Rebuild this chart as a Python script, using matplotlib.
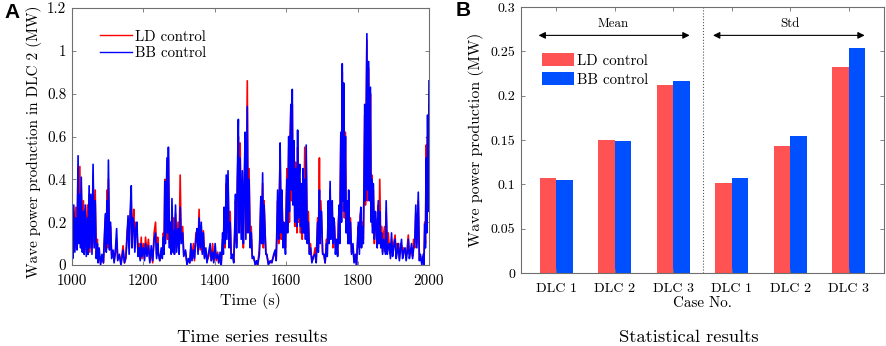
import matplotlib
matplotlib.use("Agg")
import matplotlib.pyplot as plt
import numpy as np

# ---------------- data ----------------
time_s = [1000,1002,1005,1008,1011,1014,1017,1019,1022,1024,1026,1029,1032,1034,1037,1040,1043,1045,1048,1050,
          1053,1056,1059,1062,1065,1068,1071,1073,1076,1080,1084,1088,1091,1094,1096,1098,1100,1102,1105,1108,
          1111,1115,1118,1122,1125,1128,1133,1137,1140,1143,1147,1151,1154,1157,1160,1163,1166,1168,1170,1173,
          1176,1179,1182,1185,1188,1191,1194,1196,1200,1203,1206,1210,1214,1218,1222,1226,1230,1234,1237,1240,
          1242,1246,1250,1253,1256,1258,1260,1262,1266,1268,1270,1273,1276,1278,1280,1283,1285,1287,1290,1293,
          1297,1300,1303,1306,1310,1313,1318,1322,1326,1330,1333,1336,1340,1343,1347,1350,1353,1356,1359,1362,
          1365,1368,1371,1375,1378,1383,1387,1390,1394,1397,1401,1404,1408,1411,1415,1418,1422,1424,1426,1429,
          1432,1434,1437,1440,1443,1446,1450,1453,1456,1458,1461,1463,1466,1468,1471,1474,1477,1480,1482,1485,
          1487,1489,1491,1493,1496,1499,1502,1505,1509,1513,1517,1520,1522,1525,1527,1529,1531,1534,1536,1538,
          1540,1543,1546,1550,1555,1560,1565,1569,1572,1574,1576,1579,1581,1583,1586,1588,1591,1593,1595,1598,
          1600,1602,1604,1607,1609,1611,1613,1615,1617,1619,1622,1624,1626,1628,1630,1632,1634,1636,1638,1640,
          1643,1645,1647,1649,1652,1654,1656,1659,1662,1665,1668,1672,1676,1681,1684,1686,1688,1690,1693,1695,
          1697,1699,1702,1706,1709,1713,1715,1718,1720,1723,1725,1727,1729,1731,1733,1735,1738,1741,1744,1746,
          1748,1750,1753,1755,1757,1759,1761,1763,1766,1768,1770,1773,1775,1777,1780,1783,1787,1790,1794,1797,
          1800,1802,1805,1807,1809,1811,1814,1816,1818,1820,1822,1824,1826,1828,1831,1833,1836,1838,1840,1842,
          1844,1847,1850,1852,1855,1858,1860,1862,1865,1867,1870,1873,1876,1878,1880,1883,1886,1889,1892,1895,
          1898,1901,1905,1908,1911,1914,1917,1920,1923,1926,1929,1933,1936,1939,1942,1945,1948,1951,1954,1957,
          1960,1963,1966,1970,1973,1976,1980,1984,1986,1988,1990,1992,1994,1996,1998,2000]

bb_power = [0.12,0.03,0.28,0.06,0.22,0.07,0.51,0.10,0.33,0.08,0.41,0.06,0.25,0.05,0.28,0.04,0.22,0.05,0.37,0.08,
            0.33,0.05,0.47,0.08,0.30,0.03,0.10,0.01,0.08,0.00,0.05,0.01,0.15,0.24,0.06,0.30,0.10,0.49,0.07,0.20,
            0.03,0.07,0.01,0.08,0.17,0.02,0.05,0.00,0.03,0.07,0.01,0.04,0.12,0.23,0.05,0.25,0.37,0.08,0.22,0.20,
            0.06,0.17,0.20,0.04,0.08,0.02,0.10,0.04,0.08,0.02,0.10,0.04,0.09,0.01,0.09,0.02,0.12,0.15,0.03,0.10,
            0.05,0.02,0.08,0.03,0.13,0.05,0.39,0.10,0.50,0.15,0.55,0.08,0.20,0.05,0.31,0.06,0.16,0.05,0.28,0.06,
            0.17,0.05,0.27,0.10,0.15,0.04,0.07,0.00,0.03,0.01,0.10,0.02,0.07,0.03,0.12,0.17,0.05,0.22,0.08,0.20,
            0.05,0.15,0.03,0.08,0.01,0.06,0.10,0.02,0.06,0.01,0.10,0.03,0.05,0.01,0.06,0.00,0.15,0.05,0.27,0.10,
            0.42,0.12,0.44,0.08,0.20,0.03,0.05,0.01,0.18,0.33,0.08,0.40,0.68,0.15,0.50,0.12,0.44,0.10,0.35,0.62,
            0.12,0.45,0.74,0.15,0.40,0.08,0.15,0.03,0.04,0.00,0.02,0.00,0.02,0.05,0.20,0.32,0.10,0.43,0.10,0.28,
            0.20,0.05,0.05,0.00,0.02,0.01,0.05,0.07,0.02,0.18,0.35,0.12,0.30,0.57,0.15,0.35,0.08,0.20,0.15,0.05,
            0.25,0.40,0.15,0.60,0.25,0.55,0.75,0.35,0.82,0.28,0.58,0.20,0.45,0.35,0.18,0.63,0.22,0.40,0.47,0.18,
            0.38,0.15,0.45,0.15,0.40,0.12,0.56,0.10,0.20,0.05,0.08,0.01,0.04,0.05,0.01,0.10,0.20,0.06,0.35,0.10,
            0.25,0.25,0.05,0.05,0.01,0.10,0.04,0.30,0.10,0.39,0.12,0.25,0.30,0.10,0.22,0.20,0.05,0.12,0.04,0.15,
            0.28,0.10,0.62,0.20,0.94,0.30,0.85,0.25,0.60,0.15,0.30,0.10,0.35,0.10,0.20,0.05,0.10,0.01,0.05,0.00,
            0.12,0.20,0.05,0.20,0.27,0.08,0.18,0.10,0.40,0.75,0.30,0.70,1.08,0.35,0.95,0.30,0.83,0.20,0.40,0.15,
            0.38,0.12,0.25,0.20,0.08,0.30,0.10,0.25,0.08,0.15,0.05,0.12,0.08,0.05,0.30,0.05,0.08,0.10,0.03,0.15,
            0.04,0.08,0.12,0.03,0.06,0.10,0.02,0.07,0.12,0.03,0.06,0.08,0.02,0.06,0.12,0.03,0.06,0.10,0.03,0.08,
            0.10,0.28,0.08,0.34,0.02,0.05,0.00,0.05,0.00,0.19,0.08,0.50,0.15,0.70,0.25,0.86]

ld_power = [0.10,0.05,0.25,0.08,0.27,0.10,0.45,0.12,0.46,0.10,0.36,0.08,0.30,0.07,0.26,0.06,0.28,0.08,0.33,0.06,
            0.30,0.08,0.42,0.10,0.35,0.05,0.12,0.02,0.05,0.01,0.04,0.01,0.12,0.22,0.10,0.35,0.08,0.40,0.10,0.18,
            0.05,0.06,0.02,0.06,0.12,0.03,0.04,0.01,0.05,0.09,0.01,0.03,0.15,0.20,0.08,0.22,0.30,0.10,0.18,0.26,
            0.08,0.20,0.16,0.05,0.10,0.03,0.13,0.03,0.10,0.03,0.13,0.05,0.12,0.02,0.06,0.01,0.15,0.20,0.05,0.13,
            0.06,0.02,0.06,0.05,0.15,0.08,0.40,0.12,0.45,0.12,0.50,0.10,0.18,0.06,0.25,0.08,0.22,0.05,0.24,0.08,
            0.20,0.07,0.42,0.12,0.18,0.05,0.06,0.01,0.02,0.01,0.08,0.03,0.10,0.02,0.15,0.14,0.07,0.26,0.07,0.18,
            0.06,0.16,0.04,0.06,0.02,0.04,0.08,0.02,0.10,0.02,0.07,0.02,0.06,0.01,0.04,0.01,0.12,0.08,0.22,0.08,
            0.38,0.15,0.40,0.10,0.25,0.05,0.04,0.02,0.15,0.30,0.10,0.35,0.60,0.20,0.57,0.15,0.40,0.08,0.30,0.55,
            0.15,0.50,0.86,0.20,0.45,0.10,0.18,0.04,0.03,0.01,0.01,0.00,0.03,0.08,0.15,0.30,0.12,0.38,0.08,0.30,
            0.18,0.06,0.04,0.01,0.01,0.02,0.04,0.06,0.03,0.15,0.30,0.10,0.35,0.50,0.12,0.32,0.10,0.18,0.12,0.08,
            0.30,0.45,0.18,0.55,0.20,0.60,0.72,0.30,0.75,0.30,0.55,0.18,0.48,0.30,0.15,0.55,0.20,0.42,0.40,0.15,
            0.35,0.12,0.42,0.18,0.55,0.15,0.48,0.12,0.25,0.06,0.10,0.02,0.03,0.08,0.02,0.12,0.22,0.08,0.50,0.15,
            0.30,0.20,0.06,0.04,0.01,0.12,0.05,0.28,0.12,0.35,0.15,0.28,0.25,0.08,0.20,0.18,0.08,0.10,0.05,0.20,
            0.25,0.12,0.60,0.25,0.90,0.35,0.80,0.22,0.62,0.18,0.28,0.12,0.30,0.10,0.22,0.06,0.08,0.02,0.04,0.01,
            0.10,0.18,0.08,0.23,0.25,0.10,0.20,0.12,0.35,0.70,0.28,0.65,1.05,0.30,0.92,0.35,0.80,0.25,0.42,0.18,
            0.35,0.10,0.22,0.18,0.10,0.28,0.12,0.40,0.10,0.18,0.06,0.15,0.18,0.06,0.25,0.08,0.15,0.08,0.05,0.12,
            0.06,0.10,0.14,0.04,0.10,0.08,0.03,0.10,0.09,0.05,0.08,0.06,0.03,0.08,0.14,0.05,0.07,0.08,0.04,0.12,
            0.08,0.24,0.10,0.30,0.03,0.04,0.01,0.04,0.02,0.20,0.10,0.56,0.20,0.60,0.30,0.75]

case_labels = ["DLC 1", "DLC 2", "DLC 3", "DLC 1", "DLC 2", "DLC 3"]
ld_stats = [0.107, 0.150, 0.212, 0.102, 0.143, 0.232]
bb_stats = [0.105, 0.149, 0.216, 0.107, 0.154, 0.254]

# ---------------- style ----------------
plt.rcParams['font.family'] = 'serif'
plt.rcParams['font.serif'] = ['cmr10', 'DejaVu Serif']
plt.rcParams['axes.formatter.use_mathtext'] = True
plt.rcParams['mathtext.fontset'] = 'cm'

W, H = 886, 346
fig = plt.figure(figsize=(W / 100, H / 100), dpi=100)
rend = fig.canvas.get_renderer()


def fit_size(txt, target_px, base=12.0):
    """font size (pt) that makes txt about target_px wide in the serif font"""
    t = fig.text(0, 0, txt, fontsize=base)
    w = t.get_window_extent(rend).width
    t.remove()
    return base * target_px / w


fs_tick_a = fit_size("1000", 30)
fs_tick_b = fit_size("DLC 1", 41)
fs_leg = fit_size("LD control", 71)
fs_xlab_a = fit_size("Time (s)", 61)
fs_ylab_a = fit_size("Wave power production in DLC 2 (MW)", 272)
fs_xlab_b = fit_size("Case No.", 59)
fs_ylab_b = fit_size("Wave power production (MW)", 214)
fs_mean = fit_size("Mean", 31)
fs_cap = fit_size("Time series results", 151)

frame_col = '#6f6f6f'


def style_axes(ax, ls):
    for s in ax.spines.values():
        s.set_color(frame_col)
        s.set_linewidth(0.8)
    ax.tick_params(direction='in', top=True, right=True, length=3, width=0.6,
                   color=frame_col, labelsize=ls, pad=4)
    ax.tick_params(axis='x', pad=7)


# ---- Panel A ----
axA = fig.add_axes([72 / W, 1 - 265 / H, 357 / W, 257 / H])
axA.plot(time_s, ld_power, color='#ff0000', lw=1.2, label='LD control')
axA.plot(time_s, bb_power, color='#0000ff', lw=1.2, label='BB control')
axA.set_xlim(1000, 2000)
axA.set_ylim(0, 1.2)
axA.set_xticks([1000, 1200, 1400, 1600, 1800, 2000])
axA.set_xticklabels(["1000", "1200", "1400", "1600", "1800", "2000"])
axA.set_yticks([0, 0.2, 0.4, 0.6, 0.8, 1.0, 1.2])
axA.set_yticklabels(["0", "0.2", "0.4", "0.6", "0.8", "1", "1.2"])
style_axes(axA, fs_tick_a)
axA.set_xlabel("Time (s)", fontsize=fs_xlab_a, labelpad=3)
axA.set_ylabel("Wave power production in DLC 2 (MW)", fontsize=fs_ylab_a)
axA.yaxis.set_label_coords(-30 / 357, 0.48)
legA = axA.legend(loc='upper left', bbox_to_anchor=(0.05, 0.955), frameon=False,
                  prop={'family': 'serif', 'size': fs_leg}, handlelength=2.1,
                  handletextpad=0.25, labelspacing=0.18, borderpad=0.2)
for ln in legA.get_lines():
    ln.set_linewidth(1.0)

# ---- Panel B ----
axB = fig.add_axes([521 / W, 1 - 273 / H, 363 / W, 266 / H])
x = np.arange(1, len(case_labels) + 1)
bw = 0.28
axB.bar(x - bw / 2, ld_stats, width=bw, color='#ff5252', label='LD control')
axB.bar(x + bw / 2, bb_stats, width=bw, color='#0050ff', label='BB control')
axB.set_xlim(0.4, 6.6)
axB.set_ylim(0, 0.3)
axB.set_xticks(x)
axB.set_xticklabels(case_labels)
axB.set_yticks([0, 0.05, 0.1, 0.15, 0.2, 0.25, 0.3])
axB.set_yticklabels(["0", "0.05", "0.1", "0.15", "0.2", "0.25", "0.3"])
style_axes(axB, fs_tick_b)
axB.set_xlabel("Case No.", fontsize=fs_xlab_b, labelpad=1)
axB.set_ylabel("Wave power production (MW)", fontsize=fs_ylab_b)
axB.yaxis.set_label_coords(-37 / 363, 0.5)
axB.axvline(3.5, color='#555555', lw=0.8, ls=':')
axB.annotate("", xy=(0.70, 0.268), xytext=(3.28, 0.268),
             arrowprops=dict(arrowstyle='<|-|>', color='black', lw=0.8, mutation_scale=10,
                             shrinkA=0, shrinkB=0))
axB.annotate("", xy=(3.68, 0.268), xytext=(6.27, 0.268),
             arrowprops=dict(arrowstyle='<|-|>', color='black', lw=0.8, mutation_scale=10,
                             shrinkA=0, shrinkB=0))
axB.text(1.98, 0.281, "Mean", ha='center', va='center', fontsize=fs_mean)
axB.text(4.99, 0.281, "Std", ha='center', va='center', fontsize=fs_mean)
legB = axB.legend(loc='upper left', bbox_to_anchor=(0.03, 0.866), frameon=False,
                  prop={'family': 'serif', 'size': fs_leg}, handlelength=2.1,
                  handleheight=0.95, handletextpad=0.2, labelspacing=0.3, borderpad=0.2)

# ---- panel letters and captions ----
fig.text(4 / W, 1 - 13 / H, "A", fontsize=15, fontweight='bold',
         family='Liberation Sans', va='center', ha='left')
fig.text(456 / W, 1 - 11 / H, "B", fontsize=15, fontweight='bold',
         family='Liberation Sans', va='center', ha='left')
fig.text(252 / W, 1 - 337 / H, "Time series results", fontsize=fs_cap, ha='center', va='center')
fig.text(689 / W, 1 - 337 / H, "Statistical results", fontsize=fs_cap, ha='center', va='center')

fig.savefig("out.png", dpi=100)
